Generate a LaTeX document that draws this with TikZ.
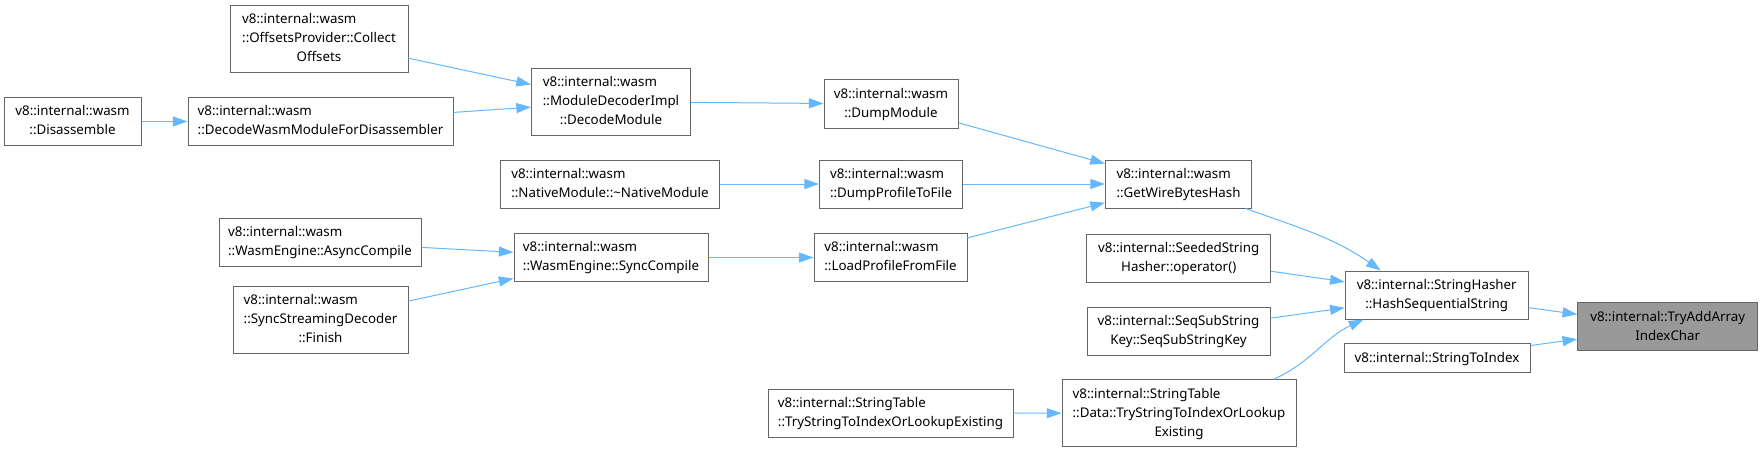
\documentclass[tikz,border=0pt]{standalone}
\usepackage{fontspec}
\setmainfont{Noto Sans}
\usepackage{tikz}
\usetikzlibrary{arrows.meta,positioning}
\definecolor{appelbleu}{HTML}{63B8FF}
\definecolor{bordgris}{HTML}{666666}
\definecolor{fondgris}{HTML}{999999}

% étiquette : lignes à gauche, dernière ligne centrée
\newcommand{\etiq}[2]{\begin{tabular}{@{}l@{}}#1\\\multicolumn{1}{@{}c@{}}{#2}\end{tabular}}

\begin{document}
\begin{tikzpicture}[x=0.75pt,y=0.75pt,
    fonction/.style = {draw=bordgris,line width=0.75pt,inner xsep=3pt,inner ysep=3.75pt,
                       font=\fontsize{10pt}{14.25pt}\selectfont},
    cible/.style    = {fonction,fill=fondgris},
    appel/.style    = {draw=appelbleu,line width=0.75pt,
                       -{Triangle[length=11pt,width=7.5pt]}},
  ]
  \useasboundingbox (0,0) rectangle (1763,-453);

  % Fonctions appelantes
  \foreach \nom/\px/\py/\lg/\txt in {
      coll/319/39/178/{\etiq{v8::internal::wasm\\::OffsetsProvider::Collect}{Offsets}},
      dis/72.5/121.5/137/{\etiq{v8::internal::wasm}{::Disassemble}},
      dec/320.5/121.5/265/{\etiq{v8::internal::wasm}{::DecodeWasmModuleForDisassembler}},
      mdi/611/101.7/159/{\etiq{v8::internal::wasm\\::ModuleDecoderImpl}{::DecodeModule}},
      nat/610/184/219/{\etiq{v8::internal::wasm}{::NativeModule::\textasciitilde NativeModule}},
      asy/320/242/202/{\etiq{v8::internal::wasm}{::WasmEngine::AsyncCompile}},
      ssd/320.5/320/175/{\etiq{v8::internal::wasm\\::SyncStreamingDecoder}{::Finish}},
      syc/611/257.5/194/{\etiq{v8::internal::wasm}{::WasmEngine::SyncCompile}},
      dmp/891/104/134/{\etiq{v8::internal::wasm}{::DumpModule}},
      dpf/891/184/143/{\etiq{v8::internal::wasm}{::DumpProfileToFile}},
      lpf/890.5/257.5/153/{\etiq{v8::internal::wasm}{::LoadProfileFromFile}},
      tsl/890.5/413/245/{\etiq{v8::internal::StringTable}{::TryStringToIndexOrLookupExisting}},
      gwb/1178.5/184/146/{\etiq{v8::internal::wasm}{::GetWireBytesHash}},
      ssh/1178.7/258/184/{\etiq{v8::internal::SeededString}{Hasher::operator()}},
      ssk/1178.5/331/183/{\etiq{v8::internal::SeqSubString}{Key::SeqSubStringKey}},
      std/1179/413.3/234/{\etiq{v8::internal::StringTable\\::Data::TryStringToIndexOrLookup}{Existing}},
      hss/1436.7/295/183/{\etiq{v8::internal::StringHasher}{::HashSequentialString}},
      sti/1437/358.3/186/{\strut v8::internal::StringToIndex}}
  {
    \node[fonction,minimum width=\lg*0.75pt] (\nom) at (\px,-\py) {\txt};
  }

  % Fonction étudiée
  \node[cible,minimum width=135pt] (tai) at (1667.7,-326.8)
    {\etiq{v8::internal::TryAddArray}{IndexChar}};

  % Appels directs
  \foreach \de/\vers in {dis/dec,dec/mdi,coll/mdi,mdi/dmp,dmp/gwb,nat/dpf,dpf/gwb,
      asy/syc,ssd/syc,syc/lpf,lpf/gwb,ssh/hss,ssk/hss,tsl/std,hss/tai,sti/tai}
    \draw[appel] (\de) -- (\vers);

  % Appels courbes
  \draw[appel] (gwb) to[out=-20,in=145] ([xshift=27pt]hss.north west);
  \draw[appel] ([xshift=-17pt]std.north east) to[out=25,in=-155]
    ([xshift=14pt]hss.south west);

\end{tikzpicture}
\end{document}
